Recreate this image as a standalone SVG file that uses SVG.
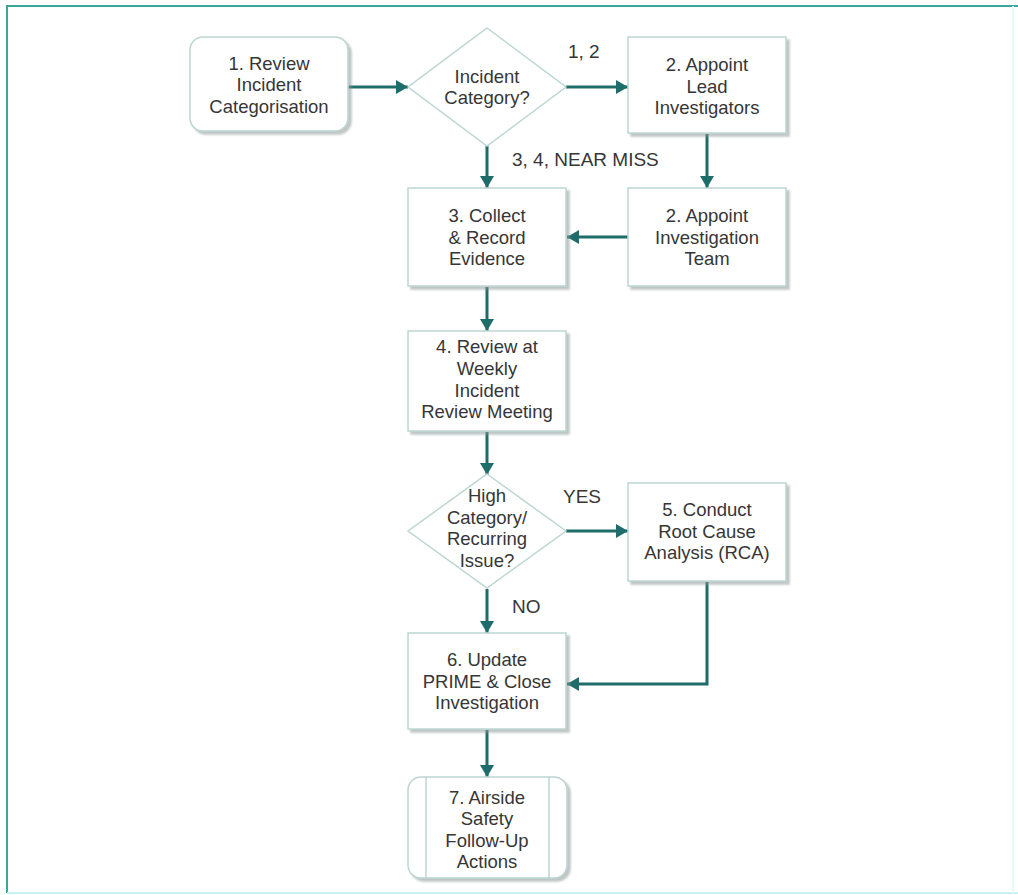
<svg xmlns="http://www.w3.org/2000/svg" width="1018" height="895" viewBox="0 0 1018 895">
  <defs>
    <filter id="shadow" x="-10%" y="-10%" width="130%" height="130%">
      <feDropShadow dx="3" dy="3" stdDeviation="1.2" flood-color="#8a9494" flood-opacity="0.55"/>
    </filter>
    <marker id="arrow" viewBox="0 0 12 14" refX="12" refY="7" markerWidth="12" markerHeight="14" markerUnits="userSpaceOnUse" orient="auto">
      <path d="M0,0 L12,7 L0,14 Z" fill="#1f6d6b"/>
    </marker>
    <style>
      .box { fill: #ffffff; stroke: #bcd6d2; stroke-width: 1.5; filter: url(#shadow); }
      .dia { fill: #ffffff; stroke: #bcd6d2; stroke-width: 1.5; }
      .inner { stroke: #bcd6d2; stroke-width: 1.5; fill: none; }
      .lbl { font-family: "Liberation Sans", Arial, sans-serif; font-size: 18.5px; fill: #363636; text-anchor: middle; }
      .edge { font-family: "Liberation Sans", Arial, sans-serif; font-size: 19px; fill: #363636; }
      .conn { stroke: #1f6d6b; stroke-width: 3; fill: none; marker-end: url(#arrow); }
    </style>
  </defs>

  <!-- page frame -->
  <rect x="0" y="0" width="1018" height="895" fill="#ffffff"/>
  <line x1="6" y1="6" x2="1018" y2="6" stroke="#3aa79c" stroke-width="2"/>
  <line x1="7" y1="5" x2="7" y2="893" stroke="#3aa79c" stroke-width="2"/>
  <line x1="7" y1="893" x2="1018" y2="893" stroke="#c8f2f2" stroke-width="2"/>
  <line x1="1013" y1="6" x2="1013" y2="893" stroke="#e6f8f8" stroke-width="2"/>

  <!-- connectors -->
  <g id="connectors">
    <line class="conn" x1="348" y1="87" x2="408" y2="87"/>
    <line class="conn" x1="566" y1="87" x2="628" y2="87"/>
    <line class="conn" x1="707" y1="134" x2="707" y2="188"/>
    <line class="conn" x1="628" y1="237" x2="567" y2="237"/>
    <line class="conn" x1="487" y1="146" x2="487" y2="188"/>
    <line class="conn" x1="487" y1="287" x2="487" y2="331"/>
    <line class="conn" x1="487" y1="432" x2="487" y2="475"/>
    <line class="conn" x1="566" y1="531" x2="628" y2="531"/>
    <line class="conn" x1="487" y1="589" x2="487" y2="633"/>
    <polyline class="conn" points="707,582 707,684 567,684"/>
    <line class="conn" x1="487" y1="730" x2="487" y2="777"/>
    <text class="edge" x="568" y="58">1, 2</text>
    <text class="edge" x="512" y="166">3, 4, NEAR MISS</text>
    <text class="edge" x="563" y="503">YES</text>
    <text class="edge" x="512" y="613">NO</text>
  </g>

  <g id="n1">
    <rect class="box" x="190" y="37" width="158" height="94" rx="13"/>
    <text class="lbl" x="269" y="69.5">1. Review</text>
    <text class="lbl" x="269" y="91">Incident</text>
    <text class="lbl" x="269" y="112.5">Categorisation</text>
  </g>

  <g id="d1">
    <polygon class="dia" points="487,28 566,87 487,146 408,87"/>
    <text class="lbl" x="487" y="82.5">Incident</text>
    <text class="lbl" x="487" y="104">Category?</text>
  </g>

  <g id="n2a">
    <rect class="box" x="628" y="37" width="158" height="96"/>
    <text class="lbl" x="707" y="71">2. Appoint</text>
    <text class="lbl" x="707" y="92.5">Lead</text>
    <text class="lbl" x="707" y="114">Investigators</text>
  </g>

  <g id="n2b">
    <rect class="box" x="628" y="188" width="158" height="98"/>
    <text class="lbl" x="707" y="222">2. Appoint</text>
    <text class="lbl" x="707" y="243.5">Investigation</text>
    <text class="lbl" x="707" y="265">Team</text>
  </g>

  <g id="n3">
    <rect class="box" x="408" y="188" width="158" height="98"/>
    <text class="lbl" x="487" y="222">3. Collect</text>
    <text class="lbl" x="487" y="243.5">&amp; Record</text>
    <text class="lbl" x="487" y="265">Evidence</text>
  </g>

  <g id="n4">
    <rect class="box" x="408" y="331" width="158" height="100"/>
    <text class="lbl" x="487" y="353">4. Review at</text>
    <text class="lbl" x="487" y="375">Weekly</text>
    <text class="lbl" x="487" y="396.5">Incident</text>
    <text class="lbl" x="487" y="418">Review Meeting</text>
  </g>

  <g id="d2">
    <polygon class="dia" points="487,474 566,531 487,588 408,531"/>
    <text class="lbl" x="487" y="502">High</text>
    <text class="lbl" x="487" y="524">Category/</text>
    <text class="lbl" x="487" y="545">Recurring</text>
    <text class="lbl" x="487" y="567">Issue?</text>
  </g>

  <g id="n5">
    <rect class="box" x="628" y="483" width="158" height="98"/>
    <text class="lbl" x="707" y="516">5. Conduct</text>
    <text class="lbl" x="707" y="537.5">Root Cause</text>
    <text class="lbl" x="707" y="559">Analysis (RCA)</text>
  </g>

  <g id="n6">
    <rect class="box" x="408" y="633" width="158" height="96"/>
    <text class="lbl" x="487" y="666">6. Update</text>
    <text class="lbl" x="487" y="687.5">PRIME &amp; Close</text>
    <text class="lbl" x="487" y="709">Investigation</text>
  </g>

  <g id="n7">
    <rect class="box" x="408" y="777" width="159" height="101" rx="13"/>
    <line class="inner" x1="426" y1="777" x2="426" y2="878"/>
    <line class="inner" x1="549" y1="777" x2="549" y2="878"/>
    <text class="lbl" x="487" y="803.5">7. Airside</text>
    <text class="lbl" x="487" y="825">Safety</text>
    <text class="lbl" x="487" y="846.5">Follow-Up</text>
    <text class="lbl" x="487" y="868">Actions</text>
  </g>
</svg>
